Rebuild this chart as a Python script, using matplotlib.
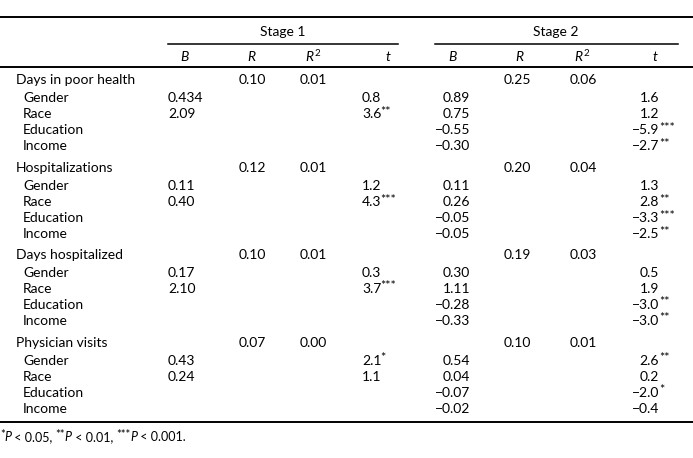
import matplotlib
matplotlib.use('Agg')
import matplotlib.pyplot as plt

plt.rcParams['font.family'] = ['Lato', 'DejaVu Sans']
plt.rcParams['mathtext.fontset'] = 'custom'
plt.rcParams['mathtext.rm'] = 'Lato'
plt.rcParams['mathtext.it'] = 'Lato:italic'

# table content
outcomes = ['Days in poor health', 'Hospitalizations', 'Days hospitalized', 'Physician visits']
predictors = ['Gender', 'Race', 'Education', 'Income']

stage1_R = ['0.10', '0.12', '0.10', '0.07']
stage1_R2 = ['0.01', '0.01', '0.01', '0.00']
stage2_R = ['0.25', '0.20', '0.19', '0.10']
stage2_R2 = ['0.06', '0.04', '0.03', '0.01']

stage1_B = [['0.434', '2.09', '', ''],
            ['0.11', '0.40', '', ''],
            ['0.17', '2.10', '', ''],
            ['0.43', '0.24', '', '']]
stage1_t = [['0.8', '3.6**', '', ''],
            ['1.2', '4.3***', '', ''],
            ['0.3', '3.7***', '', ''],
            ['2.1*', '1.1', '', '']]
stage2_B = [['0.89', '0.75', '\u22120.55', '\u22120.30'],
            ['0.11', '0.26', '\u22120.05', '\u22120.05'],
            ['0.30', '1.11', '\u22120.28', '\u22120.33'],
            ['0.54', '0.04', '\u22120.07', '\u22120.02']]
stage2_t = [['1.6', '1.2', '\u22125.9***', '\u22122.7**'],
            ['1.3', '2.8**', '\u22123.3***', '\u22122.5**'],
            ['0.5', '1.9', '\u22123.0**', '\u22123.0**'],
            ['2.6**', '0.2', '\u22122.0*', '\u22120.4']]

footnote = [('*', 'P', ' < 0.05, '), ('**', 'P', ' < 0.01, '), ('***', 'P', ' < 0.001.')]

fs = 10
W, H = 693, 458
fig = plt.figure(figsize=(W / 100, H / 100), dpi=100)
ax = fig.add_axes([0, 0, 1, 1])
ax.set_xlim(0, W)
ax.set_ylim(H, 0)
ax.axis('off')
renderer = fig.canvas.get_renderer()


def text_width(t):
    return t.get_window_extent(renderer=renderer).width


def t_value(x, y, s, align):
    num = s.rstrip('*')
    stars = s[len(num):]
    t = ax.text(x, y, num, fontsize=fs, ha=align, va='center')
    if stars:
        xe = x if align == 'right' else x + text_width(t) - 1
        ax.text(xe, y - 2.5, stars, fontsize=fs - 1, ha='left', va='center')


# rules
ax.plot([0, W], [16.5, 16.5], color='black', lw=1.4)
ax.plot([0, W], [67, 67], color='black', lw=1.4)
ax.plot([0, W], [422, 422], color='black', lw=1.4)
ax.plot([168, 398], [44, 44], color='black', lw=1.1)
ax.plot([435, 678], [44, 44], color='black', lw=1.1)

ax.text(283, 32, 'Stage 1', fontsize=fs, ha='center', va='center')
ax.text(556, 32, 'Stage 2', fontsize=fs, ha='center', va='center')

for x, lab in [(185, '$B$'), (252, '$R$'), (313, '$R^2$'), (388, '$t$'),
               (453, '$B$'), (520, '$R$'), (582, '$R^2$'), (655, '$t$')]:
    ax.text(x, 56, lab, fontsize=fs, ha='center', va='center')

group_y = [80, 168, 255, 343]
for g, name in enumerate(outcomes):
    y0 = group_y[g]
    ax.text(16, y0, name, fontsize=fs, ha='left', va='center')
    ax.text(239, y0, stage1_R[g], fontsize=fs, ha='left', va='center')
    ax.text(300, y0, stage1_R2[g], fontsize=fs, ha='left', va='center')
    ax.text(504, y0, stage2_R[g], fontsize=fs, ha='left', va='center')
    ax.text(570, y0, stage2_R2[g], fontsize=fs, ha='left', va='center')
    for i, p in enumerate(predictors):
        y = y0 + 18 + 16 * i
        ax.text(23, y, p, fontsize=fs, ha='left', va='center')
        if stage1_B[g][i]:
            ax.text(168, y, stage1_B[g][i], fontsize=fs, ha='left', va='center')
        if stage1_t[g][i]:
            t_value(362, y, stage1_t[g][i], 'left')
        ax.text(470, y, stage2_B[g][i], fontsize=fs, ha='right', va='center')
        t_value(659, y, stage2_t[g][i], 'right')

# footnote, built piece by piece
x = 0
fy = 437
for stars, p, rest in footnote:
    t = ax.text(x, fy - 2.5, stars, fontsize=fs - 2, ha='left', va='center')
    x += text_width(t) - 0.5
    t = ax.text(x, fy, p, fontsize=fs - 1, style='italic', ha='left', va='center')
    x += text_width(t)
    t = ax.text(x, fy, rest, fontsize=fs - 1, ha='left', va='center')
    x += text_width(t)

fig.savefig('out.png', dpi=100)
